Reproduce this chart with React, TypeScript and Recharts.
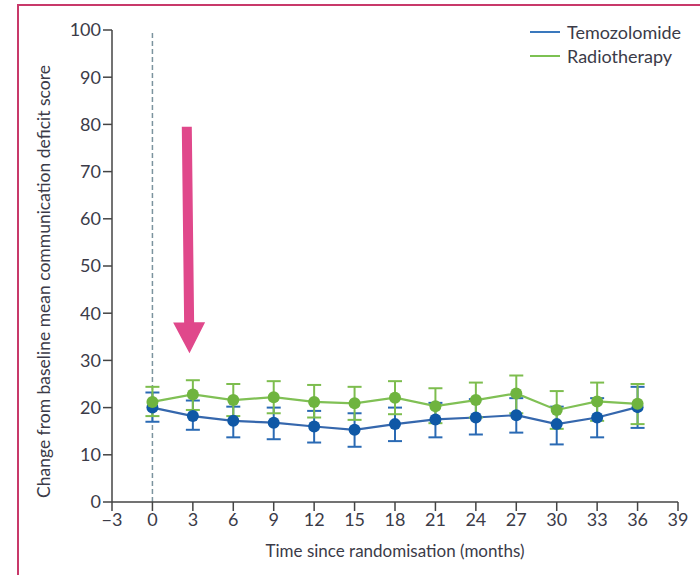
import React from "react";
import {
  ComposedChart,
  Line,
  XAxis,
  YAxis,
  ErrorBar,
  ReferenceLine,
} from "recharts";

const months = [0, 3, 6, 9, 12, 15, 18, 21, 24, 27, 30, 33, 36];
const xTicks = [-3, 0, 3, 6, 9, 12, 15, 18, 21, 24, 27, 30, 33, 36, 39];
const yTicks = [0, 10, 20, 30, 40, 50, 60, 70, 80, 90, 100];

const tmzMean = [20.0, 18.2, 17.2, 16.8, 16.0, 15.3, 16.5, 17.5, 17.9, 18.4, 16.5, 17.9, 20.1];
const tmzLow = [17.0, 15.3, 13.7, 13.3, 12.6, 11.7, 12.9, 13.7, 14.3, 14.7, 12.2, 13.7, 15.7];
const tmzHigh = [23.2, 21.5, 20.2, 20.0, 19.3, 18.8, 20.0, 21.0, 21.8, 22.0, 20.2, 22.0, 24.4];

const rtMean = [21.2, 22.8, 21.6, 22.2, 21.2, 20.9, 22.1, 20.3, 21.6, 23.0, 19.5, 21.3, 20.8];
const rtLow = [18.2, 19.5, 18.2, 18.8, 17.9, 17.4, 18.6, 16.7, 17.9, 18.8, 15.5, 17.2, 16.5];
const rtHigh = [24.4, 25.8, 25.0, 25.6, 24.8, 24.4, 25.6, 24.1, 25.3, 26.8, 23.5, 25.3, 25.0];

const series = [
  { name: "Temozolomide", color: "#3a78bd" },
  { name: "Radiotherapy", color: "#7cc152" },
];

// annotation arrow (data units)
const arrowFrom = { x: 2.55, y: 79.5 };
const arrowTo = { x: 2.75, y: 31.5 };

const BLUE = "#0f58a6";
const GREEN = "#6fb43f";
const INK = "#3b3b48";
const FONT = "Lato, 'Liberation Sans', sans-serif";

const data = months.map((m, i) => ({
  month: m,
  tmz: tmzMean[i],
  tmzErr: [tmzMean[i] - tmzLow[i], tmzHigh[i] - tmzMean[i]],
  rt: rtMean[i],
  rtErr: [rtMean[i] - rtLow[i], rtHigh[i] - rtMean[i]],
}));

const Arrow = (props: any) => {
  const { x1, y1, x2, y2 } = props;
  const head = 31;
  const half = 16;
  const shaft = 5;
  const dx = x2 - x1;
  const dy = y2 - y1;
  const len = Math.sqrt(dx * dx + dy * dy);
  const ux = dx / len;
  const uy = dy / len;
  const px = -uy;
  const py = ux;
  const bx = x2 - ux * head;
  const by = y2 - uy * head;
  const pts = [
    [x1 + px * shaft, y1 + py * shaft],
    [bx + px * shaft, by + py * shaft],
    [bx + px * half, by + py * half],
    [x2, y2],
    [bx - px * half, by - py * half],
    [bx - px * shaft, by - py * shaft],
    [x1 - px * shaft, y1 - py * shaft],
  ]
    .map((p) => p.join(","))
    .join(" ");
  return <polygon points={pts} fill="#e0488b" />;
};

export default function App() {
  return (
    <div style={{ position: "absolute", left: 0, top: 0, width: 700, height: 575, background: "#fff", overflow: "hidden" }}>
      <div
        style={{
          position: "absolute",
          left: 17,
          top: 4,
          width: 720,
          height: 620,
          borderLeft: "2px solid #c8396a",
          borderTop: "2px solid #c8396a",
        }}
      />
      <ComposedChart
        width={700}
        height={575}
        data={data}
        margin={{ top: 30, right: 22, bottom: 23, left: 52 }}
        style={{ position: "absolute", left: 0, top: 0 }}
      >
        <XAxis
          type="number"
          dataKey="month"
          domain={[-3, 39]}
          ticks={xTicks}
          interval={0}
          height={50}
          tickSize={9}
          tickFormatter={(v) => (v < 0 ? "\u2212" + Math.abs(v) : String(v))}
          stroke="#444"
          strokeWidth={1.5}
          tick={{ fill: INK, fontSize: 18, fontFamily: FONT }}
          label={{ value: "Time since randomisation (months)", position: "insideBottom", offset: -5, fill: INK, fontSize: 17, fontFamily: FONT }}
        />
        <YAxis
          type="number"
          domain={[0, 100]}
          ticks={yTicks}
          interval={0}
          width={60}
          tickSize={9}
          stroke="#444"
          strokeWidth={1.5}
          tick={{ fill: INK, fontSize: 18, fontFamily: FONT }}
          label={{
            value: "Change from baseline mean communication deficit score",
            angle: -90,
            position: "insideLeft",
            offset: -8,
            dy: 232,
            fill: INK,
            fontSize: 17.5,
            fontFamily: FONT,
          }}
        />
        <ReferenceLine x={0} stroke="#7b939e" strokeWidth={1.5} strokeDasharray="5 3" />
        <Line
          dataKey="tmz"
          name="Temozolomide"
          stroke="#3567ad"
          strokeWidth={2.2}
          dot={{ r: 6, fill: BLUE, stroke: BLUE, strokeWidth: 0 }}
          isAnimationActive={false}
        >
          <ErrorBar dataKey="tmzErr" direction="y" width={7} stroke="#2a6ab4" strokeWidth={2} />
        </Line>
        <Line
          dataKey="rt"
          name="Radiotherapy"
          stroke="#80c055"
          strokeWidth={2.2}
          dot={{ r: 6, fill: GREEN, stroke: GREEN, strokeWidth: 0 }}
          isAnimationActive={false}
        >
          <ErrorBar dataKey="rtErr" direction="y" width={7} stroke="#7dbd4e" strokeWidth={2} />
        </Line>
        <ReferenceLine segment={[arrowFrom, arrowTo]} shape={<Arrow />} ifOverflow="visible" />
      </ComposedChart>
      <div
        style={{
          position: "absolute",
          left: 530,
          top: 20,
          fontFamily: FONT,
          fontSize: 18,
          color: INK,
          lineHeight: "24px",
        }}
      >
        {series.map((it) => (
          <div key={it.name} style={{ display: "flex", alignItems: "center" }}>
            <span style={{ display: "inline-block", width: 30, height: 2, background: it.color, marginRight: 7 }} />
            {it.name}
          </div>
        ))}
      </div>
    </div>
  );
}
